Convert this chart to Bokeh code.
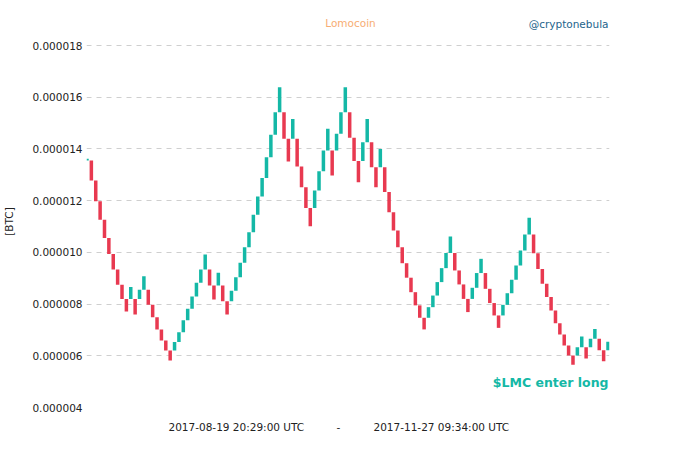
from bokeh.plotting import figure
from bokeh.models import ColumnDataSource, Range1d, FixedTicker, PrintfTickFormatter, Label
from bokeh.embed import file_html
from bokeh.resources import INLINE

# Renko bricks, values in micro-BTC (1e-6 BTC)
opens_u = [13.55, 13.55, 12.78, 11.98, 11.26, 10.56, 9.94, 9.34, 8.75, 8.20,
           8.20, 8.20, 8.20, 8.55, 8.55, 7.97, 7.49, 7.02, 6.59, 6.20,
           6.20, 6.53, 6.91, 7.37, 7.82, 8.29, 8.82, 9.34, 9.34, 8.72,
           8.72, 8.72, 8.11, 8.11, 8.52, 9.04, 9.60, 10.20, 10.78, 11.45,
           12.16, 12.88, 13.68, 14.55, 15.42, 15.42, 14.39, 14.39, 14.39, 13.32,
           12.52, 11.72, 11.72, 12.39, 13.14, 13.94, 13.94, 13.94, 14.59, 15.42,
           15.42, 14.43, 13.53, 13.53, 14.26, 14.26, 13.29, 13.29, 13.29, 12.33,
           11.55, 10.85, 10.20, 9.58, 9.02, 8.46, 7.95, 7.47, 7.47, 7.88,
           8.33, 8.85, 9.39, 9.98, 9.98, 9.30, 8.76, 8.20, 8.20, 8.63,
           9.20, 9.20, 8.59, 8.04, 7.56, 7.56, 7.97, 8.42, 8.94, 9.49,
           10.07, 10.69, 10.69, 9.97, 9.36, 8.79, 8.27, 7.75, 7.26, 6.82,
           6.40, 6.01, 6.01, 6.33, 6.33, 6.33, 6.66, 6.66, 6.21, 6.21]
closes_u = [13.62, 12.78, 11.98, 11.26, 10.56, 9.94, 9.34, 8.75, 8.20, 7.71,
            8.66, 7.60, 8.55, 9.08, 7.97, 7.49, 7.02, 6.59, 6.20, 5.82,
            6.53, 6.91, 7.37, 7.82, 8.29, 8.82, 9.34, 9.92, 8.72, 8.18,
            9.21, 8.11, 7.60, 8.52, 9.04, 9.60, 10.20, 10.78, 11.45, 12.16,
            12.88, 13.68, 14.55, 15.42, 16.39, 14.39, 13.51, 15.16, 13.32, 12.52,
            11.72, 11.01, 12.39, 13.14, 13.94, 14.78, 12.97, 14.59, 15.42, 16.39,
            14.43, 13.53, 12.71, 14.26, 15.16, 13.29, 12.52, 14.00, 12.33, 11.55,
            10.85, 10.20, 9.58, 9.02, 8.46, 7.95, 7.47, 7.02, 7.88, 8.33,
            8.85, 9.39, 9.98, 10.61, 9.30, 8.76, 8.20, 7.69, 8.63, 9.20,
            9.75, 8.59, 8.04, 7.56, 7.08, 7.97, 8.42, 8.94, 9.49, 10.07,
            10.69, 11.34, 9.97, 9.36, 8.79, 8.27, 7.75, 7.26, 6.82, 6.40,
            6.01, 5.65, 6.33, 6.75, 5.90, 6.66, 7.04, 6.21, 5.79, 6.54]
y_ticks = [0.000004, 0.000006, 0.000008, 0.000010, 0.000012, 0.000014, 0.000016, 0.000018]
grid_ticks = [0.000006, 0.000008, 0.000010, 0.000012, 0.000014, 0.000016, 0.000018]

title_text = "Lomocoin"
handle_text = "@cryptonebula"
signal_text = "$LMC enter long"
start_text = "2017-08-19 20:29:00 UTC"
end_text = "2017-11-27 09:34:00 UTC"
y_label = "[BTC]"

UP = "#14b8a6"
DOWN = "#e83950"

n = len(opens_u)
idx = list(range(n))
o = [v * 1e-6 for v in opens_u]
c = [v * 1e-6 for v in closes_u]
src = ColumnDataSource(dict(
    x=idx,
    top=[max(a, b) for a, b in zip(o, c)],
    bottom=[min(a, b) for a, b in zip(o, c)],
    color=[UP if b >= a else DOWN for a, b in zip(o, c)],
))

p = figure(width=664, height=437, output_backend="svg", toolbar_location=None,
           x_axis_type=None, x_range=Range1d(-0.11, 119.34),
           y_range=Range1d(0.00000284, 0.000019547),
           min_border_left=85, min_border_right=55, min_border_top=5, min_border_bottom=0)
p.title.visible = False
p.outline_line_color = None
p.background_fill_color = "white"
p.border_fill_color = "white"

p.vbar(x="x", width=0.8, top="top", bottom="bottom", fill_color="color",
       line_color=None, source=src)

ax = p.yaxis[0]
ax.ticker = FixedTicker(ticks=y_ticks)
ax.formatter = PrintfTickFormatter(format="%.6f")
ax.axis_line_color = None
ax.major_tick_line_color = None
ax.minor_tick_line_color = None
ax.major_tick_out = 0
ax.major_tick_in = 0
ax.major_label_standoff = 4
ax.major_label_text_font = "DejaVu Sans"
ax.major_label_text_font_size = "10.5px"
ax.major_label_text_color = "#222222"
ax.axis_label = y_label
ax.axis_label_standoff = 14
ax.axis_label_text_font = "DejaVu Sans"
ax.axis_label_text_font_size = "10.5px"
ax.axis_label_text_font_style = "normal"
ax.axis_label_text_color = "#222222"

p.xgrid.visible = False
p.ygrid.ticker = FixedTicker(ticks=grid_ticks)
p.ygrid.grid_line_color = "#cfcfcf"
p.ygrid.grid_line_dash = "5 5"
p.ygrid.grid_line_width = 1

def lab(text, x, y, align="left", color="#222222", size="10.5px", style="normal"):
    p.add_layout(Label(x=x, y=y, x_units="screen", y_units="screen", text=text,
                       text_align=align, text_baseline="middle", text_color=color,
                       text_font="DejaVu Sans", text_font_size=size,
                       text_font_style=style))

lab(title_text, 264, 415, align="center", color="#f7ad73")
lab(handle_text, 522, 414, align="right", color="#24648c")
lab(signal_text, 522, 55, align="right", color="#14b8a6", size="12.5px", style="bold")
lab(start_text, 82, 11, align="left")
lab("-", 252, 11, align="center")
lab(end_text, 287, 11, align="left")

open("out.html", "w").write(file_html(p, INLINE))
